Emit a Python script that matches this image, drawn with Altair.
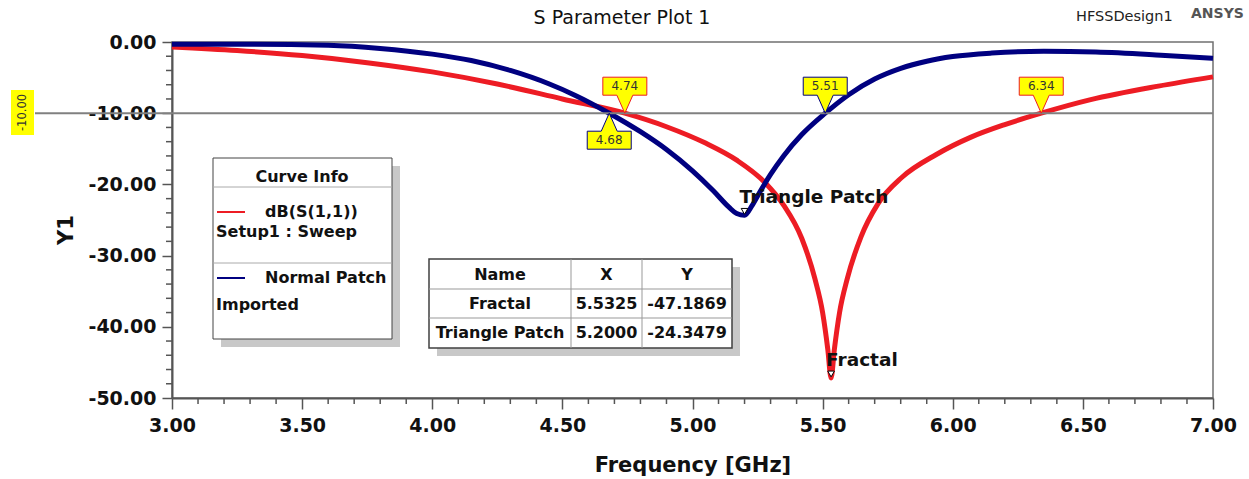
import altair as alt
import pandas as pd

# Page geometry of the plot area (pixels)
LEFT, TOP = 172, 42
PLOT_W, PLOT_H = 1041, 356
FONT = "DejaVu Sans"
RED = "#ED1C24"
NAVY = "#000080"
YELLOW = "#FFFF00"
AXIS_GRAY = "#555555"

# dB(S(1,1)) of the fractal patch, Setup1 : Sweep
fractal_freq = [3.00, 3.25, 3.50, 3.75, 4.00, 4.25, 4.50, 4.74, 4.90, 5.05, 5.17,
                5.28, 5.35, 5.42, 5.47, 5.50, 5.52, 5.5325, 5.545, 5.565, 5.595,
                5.647, 5.713, 5.805, 5.937, 6.068, 6.20, 6.34, 6.53, 6.79, 7.00]
fractal_db = [-0.7, -1.2, -1.9, -2.9, -4.2, -5.9, -8.0, -10.0, -11.9, -14.2, -16.6,
              -19.8, -22.9, -27.6, -33.2, -38.0, -43.2, -47.1869, -43.2, -38.0, -33.2,
              -27.4, -22.7, -19.0, -15.8, -13.4, -11.6, -10.0, -8.1, -6.2, -4.9]

# dB(S(1,1)) of the normal (triangle) patch, imported
normal_freq = [3.00, 3.30, 3.60, 3.80, 4.00, 4.15, 4.30, 4.45, 4.55, 4.68, 4.80,
               4.90, 5.00, 5.08, 5.14, 5.17, 5.20, 5.23, 5.26, 5.30, 5.35, 5.42,
               5.51, 5.60, 5.70, 5.80, 5.90, 6.00, 6.15, 6.35, 6.55, 6.80, 7.00]
normal_db = [-0.3, -0.3, -0.45, -0.9, -1.7, -2.6, -4.0, -5.9, -7.5, -10.0, -12.6,
             -15.1, -18.1, -20.9, -23.2, -24.1, -24.3479, -22.9, -21.0, -18.6, -16.0,
             -13.0, -10.0, -7.4, -5.2, -3.7, -2.7, -2.05, -1.55, -1.3, -1.4, -1.85, -2.3]

# -10 dB crossings
threshold_db = -10.0
marker_freq = [4.74, 4.68, 5.51, 6.34]
marker_curve = ["Fractal", "Normal Patch", "Normal Patch", "Fractal"]

# Minimum markers (also listed in the table)
min_names = ["Fractal", "Triangle Patch"]
min_freq = [5.5325, 5.2000]
min_db = [-47.1869, -24.3479]

# Curve info entries
legend_names = ["dB(S(1,1))", "Normal Patch"]
legend_sources = ["Setup1 : Sweep", "Imported"]

title_text = "S Parameter Plot 1"
design_text = "HFSSDesign1"
brand_text = "ANSYS"
x_title = "Frequency [GHz]"
y_title = "Y1"
table_header = ["Name", "X", "Y"]

x_major = [3.0, 3.5, 4.0, 4.5, 5.0, 5.5, 6.0, 6.5, 7.0]
x_minor = [round(3 + 0.1 * i, 1) for i in range(41) if i % 5]
y_major = [-50, -40, -30, -20, -10, 0]
y_minor = [v for v in range(-50, 1, 2) if v % 10]

# ---------------------------------------------------------------------------
xscale = alt.Scale(domain=[3, 7], nice=False, zero=False)
yscale = alt.Scale(domain=[-50, 0], nice=False, zero=False)
curve_colors = alt.Scale(domain=["Fractal", "Normal Patch"], range=[RED, NAVY])
label_expr = "replace(format(datum.value, '.2f'), '\u2212', '-')"

major_x = alt.Axis(values=x_major, orient="bottom", title=None, tickSize=11,
                   labelPadding=7, labelExpr=label_expr, labelFlush=False,
                   labelOverlap=False, grid=False)
major_y = alt.Axis(values=y_major, orient="left", title=None, tickSize=10,
                   labelPadding=6, labelExpr=label_expr, labelFlush=False,
                   labelOverlap=False, grid=False)

fractal_df = pd.DataFrame({"freq": fractal_freq, "db": fractal_db})
normal_df = pd.DataFrame({"freq": normal_freq, "db": normal_db})
markers_df = pd.DataFrame({"freq": marker_freq, "curve": marker_curve,
                           "level": [threshold_db] * len(marker_freq)})
below = [False, True, False, False]
above_df = markers_df[[not b for b in below]]
below_df = markers_df[below]
minima_df = pd.DataFrame({"name": min_names, "freq": min_freq, "db": min_db})
level_df = pd.DataFrame({"level": [threshold_db]})


def px(x):
    return x - LEFT


def py(y):
    return y - TOP


def one(text=""):
    return alt.Chart(pd.DataFrame({"t": [text]}))


def label(text, x, y, size, weight="normal", align="left", baseline="middle",
          color="#111111", angle=0):
    return one(text).mark_text(
        font=FONT, fontSize=size, fontWeight=weight, align=align,
        baseline=baseline, color=color, angle=angle
    ).encode(x=alt.value(px(x)), y=alt.value(py(y)), text="t:N")


def box(x0, y0, x1, y1, fill, stroke=None, width=1):
    kw = dict(fill=fill)
    if stroke:
        kw.update(stroke=stroke, strokeWidth=width)
    else:
        kw.update(strokeWidth=0)
    return one().mark_rect(**kw).encode(
        x=alt.value(px(x0)), x2=alt.value(px(x1)),
        y=alt.value(py(y0)), y2=alt.value(py(y1)))


def hline(x0, x1, y, color, width=1):
    return one().mark_rule(color=color, strokeWidth=width).encode(
        x=alt.value(px(x0)), x2=alt.value(px(x1)), y=alt.value(py(y)))


def vline(x, y0, y1, color, width=1):
    return one().mark_rule(color=color, strokeWidth=width).encode(
        x=alt.value(px(x)), y=alt.value(py(y0)), y2=alt.value(py(y1)))


# The fractal curve carries the labelled axes
fractal_line = alt.Chart(fractal_df).mark_line(
    color=RED, strokeWidth=5, interpolate="monotone").encode(
    x=alt.X("freq:Q", scale=xscale, axis=major_x),
    y=alt.Y("db:Q", scale=yscale, axis=major_y))
normal_line = alt.Chart(normal_df).mark_line(
    color=NAVY, strokeWidth=5, interpolate="monotone").encode(
    x=alt.X("freq:Q", scale=xscale, axis=None),
    y=alt.Y("db:Q", scale=yscale, axis=None))

# Minor ticks between the labelled ones
x_minor_ticks = alt.Chart(pd.DataFrame({"v": x_minor})).mark_rule(
    color=AXIS_GRAY, strokeWidth=1.5).encode(
    x=alt.X("v:Q", scale=xscale, axis=None),
    y=alt.value(PLOT_H), y2=alt.value(PLOT_H + 6))
y_minor_ticks = alt.Chart(pd.DataFrame({"v": y_minor})).mark_rule(
    color=AXIS_GRAY, strokeWidth=1.5).encode(
    y=alt.Y("v:Q", scale=yscale, axis=None),
    x=alt.value(-6), x2=alt.value(0))

# -10 dB reference line, running out to its yellow tag
level_rule = alt.Chart(level_df).mark_rule(color="#808080", strokeWidth=2).encode(
    y=alt.Y("level:Q", scale=yscale, axis=None),
    x=alt.value(px(35)), x2=alt.value(PLOT_W))
level_tag = box(11, 90, 34, 135, YELLOW)
level_text = label(f"{threshold_db:.2f}", 22.5, 112.5, 11.5, align="center",
                   color="#333333", angle=270)

# Callout flags for the -10 dB crossings (tip sits on the crossing)
ABOVE_PATH = "M0,0L-8,-18L-22,-18L-22,-36L22,-36L22,-18L8,-18Z"
BELOW_PATH = "M0,0L-8,18L-22,18L-22,36L22,36L22,18L8,18Z"


def callouts(df, path, dy):
    enc = dict(x=alt.X("freq:Q", scale=xscale, axis=None),
               y=alt.Y("level:Q", scale=yscale, axis=None))
    flag = alt.Chart(df).mark_point(
        shape=path, size=4, filled=True, fill=YELLOW, strokeWidth=1, opacity=1
    ).encode(stroke=alt.Stroke("curve:N", scale=curve_colors, legend=None), **enc)
    text = alt.Chart(df).mark_text(
        font=FONT, fontSize=12, color="#333333", baseline="middle", yOffset=dy
    ).encode(text=alt.Text("freq:Q", format=".2f"), **enc)
    return [flag, text]


minima_enc = dict(x=alt.X("freq:Q", scale=xscale, axis=None),
                  y=alt.Y("db:Q", scale=yscale, axis=None))
minima_mark = alt.Chart(minima_df).mark_point(
    shape="triangle-down", size=45, filled=True, fill="white", stroke="black",
    strokeWidth=1, opacity=1, yOffset=-4).encode(**minima_enc)
minima_text = alt.Chart(minima_df).mark_text(
    font=FONT, fontSize=18.5, fontWeight="bold", align="left",
    baseline="alphabetic", dx=-5, dy=-12, color="#111111").encode(
    text="name:N", **minima_enc)

# Curve info box
LEG = 16
legend_layers = [
    box(221, 166, 400, 347, "#C8C8C8"),
    box(213, 158, 392, 339, "white", "#444444", 1),
    hline(213, 392, 187, "#AAAAAA"),
    hline(213, 392, 263, "#AAAAAA"),
    label("Curve Info", 302, 177, LEG, "bold", align="center"),
    hline(217, 245, 212, RED, 2),
    label(legend_names[0], 265, 212, LEG, "bold"),
    label(legend_sources[0], 216, 232, LEG, "bold"),
    hline(217, 245, 278, NAVY, 2),
    label(legend_names[1], 265, 278, LEG, "bold"),
    label(legend_sources[1], 216, 305, LEG, "bold"),
]

# Minimum table
col_centers = [500, 606.5, 687]
row_centers = [274.5, 303.5, 333]
table_layers = [
    box(437, 267, 740, 356, "#C8C8C8"),
    box(429, 259, 732, 348, "white", "#404040", 1.5),
    hline(429, 732, 289, "#999999"),
    hline(429, 732, 318, "#999999"),
    vline(571, 259, 348, "#999999"),
    vline(642, 259, 348, "#999999"),
]
for c, h in zip(col_centers, table_header):
    table_layers.append(label(h, c, row_centers[0], LEG, "bold", align="center"))
for r, (n, f, d) in enumerate(zip(min_names, min_freq, min_db)):
    for c, t in zip(col_centers, [n, f"{f:.4f}", f"{d:.4f}"]):
        table_layers.append(label(t, c, row_centers[r + 1], LEG, "bold", align="center"))

text_layers = [
    label(title_text, 622, 24, 19, align="center", baseline="alphabetic"),
    label(design_text, 1076, 21, 14.5, baseline="alphabetic", color="#222222"),
    label(brand_text, 1191, 18, 14, "bold", baseline="alphabetic", color="#555555"),
    label(x_title, 693, 472, 21, "bold", align="center", baseline="alphabetic"),
    label(y_title, 67, 230, 21, "bold", align="center", angle=270),
]

layers = ([fractal_line, normal_line, level_rule, x_minor_ticks, y_minor_ticks]
          + callouts(above_df, ABOVE_PATH, -27)
          + callouts(below_df, BELOW_PATH, 27)
          + [minima_mark, minima_text, level_tag, level_text]
          + legend_layers + table_layers + text_layers)

chart = alt.layer(*layers).resolve_axis(
    x="independent", y="independent"
).properties(
    width=PLOT_W, height=PLOT_H,
    padding={"left": LEFT, "top": TOP, "right": 1249 - LEFT - PLOT_W,
             "bottom": 479 - TOP - PLOT_H},
    autosize=alt.AutoSizeParams(type="none"),
    background="white",
).configure_view(
    stroke="#707070", strokeWidth=1.5
).configure_axis(
    domainColor=AXIS_GRAY, domainWidth=2, tickColor=AXIS_GRAY, tickWidth=1.5,
    labelFont=FONT, labelFontWeight="bold", labelFontSize=19, labelColor="#111111",
)

chart.save("out.html", embed_options={"renderer": "svg", "actions": False})
